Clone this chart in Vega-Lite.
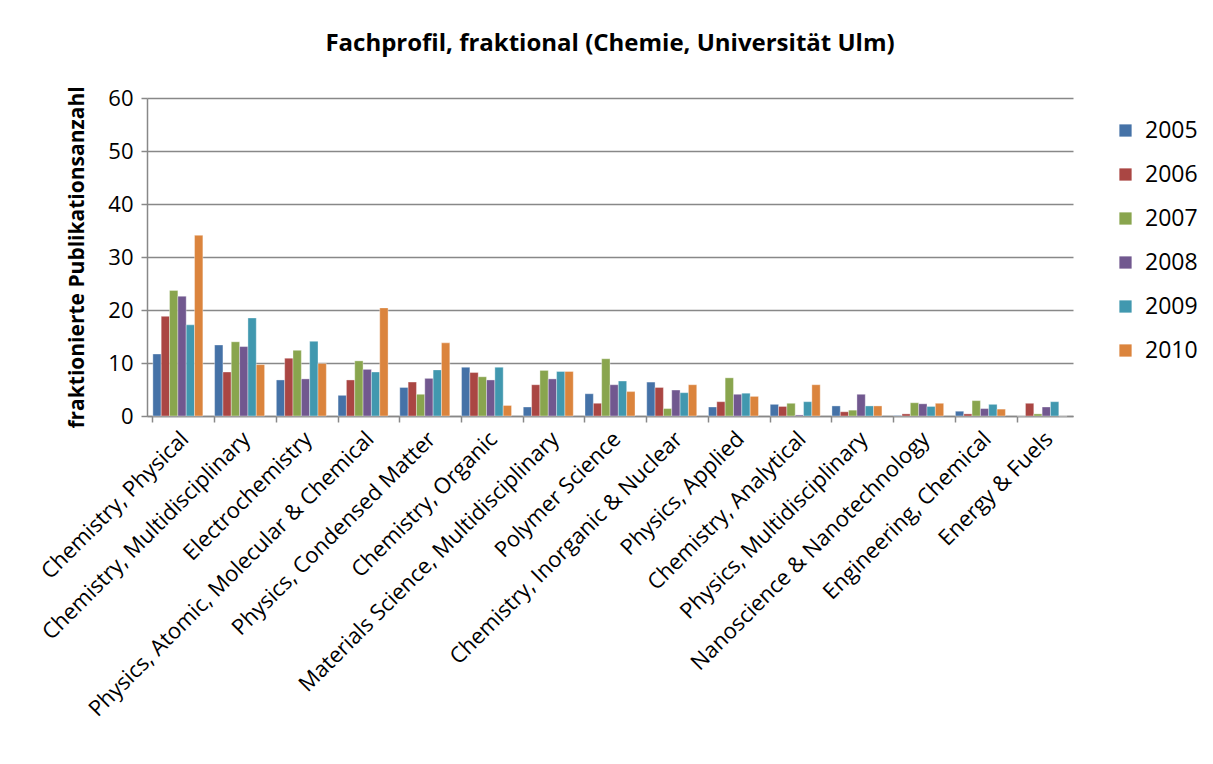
{
  "$schema": "https://vega.github.io/schema/vega-lite/v6.json",
  "autosize": {"type": "none"},
  "padding": {"left": 147, "top": 98, "right": 140, "bottom": 348},
  "width": 926,
  "height": 318,
  "background": "white",
  "config": {"font": "Open Sans", "view": {"stroke": null}},
  "title": {"text": "Fachprofil, fraktional (Chemie, Universität Ulm)", "fontSize": 24, "fontWeight": "bold", "font": "Open Sans", "color": "black", "offset": 30, "anchor": "middle"},
  "data": {"values": [
    {"cat": "Chemistry, Physical", "year": "2005", "value": 11.7},
    {"cat": "Chemistry, Physical", "year": "2006", "value": 18.8},
    {"cat": "Chemistry, Physical", "year": "2007", "value": 23.7},
    {"cat": "Chemistry, Physical", "year": "2008", "value": 22.6},
    {"cat": "Chemistry, Physical", "year": "2009", "value": 17.2},
    {"cat": "Chemistry, Physical", "year": "2010", "value": 34.1},
    {"cat": "Chemistry, Multidisciplinary", "year": "2005", "value": 13.4},
    {"cat": "Chemistry, Multidisciplinary", "year": "2006", "value": 8.3},
    {"cat": "Chemistry, Multidisciplinary", "year": "2007", "value": 14.0},
    {"cat": "Chemistry, Multidisciplinary", "year": "2008", "value": 13.1},
    {"cat": "Chemistry, Multidisciplinary", "year": "2009", "value": 18.5},
    {"cat": "Chemistry, Multidisciplinary", "year": "2010", "value": 9.7},
    {"cat": "Electrochemistry", "year": "2005", "value": 6.8},
    {"cat": "Electrochemistry", "year": "2006", "value": 10.9},
    {"cat": "Electrochemistry", "year": "2007", "value": 12.4},
    {"cat": "Electrochemistry", "year": "2008", "value": 7.0},
    {"cat": "Electrochemistry", "year": "2009", "value": 14.1},
    {"cat": "Electrochemistry", "year": "2010", "value": 9.9},
    {"cat": "Physics, Atomic, Molecular & Chemical", "year": "2005", "value": 3.9},
    {"cat": "Physics, Atomic, Molecular & Chemical", "year": "2006", "value": 6.8},
    {"cat": "Physics, Atomic, Molecular & Chemical", "year": "2007", "value": 10.4},
    {"cat": "Physics, Atomic, Molecular & Chemical", "year": "2008", "value": 8.8},
    {"cat": "Physics, Atomic, Molecular & Chemical", "year": "2009", "value": 8.3},
    {"cat": "Physics, Atomic, Molecular & Chemical", "year": "2010", "value": 20.4},
    {"cat": "Physics, Condensed Matter", "year": "2005", "value": 5.4},
    {"cat": "Physics, Condensed Matter", "year": "2006", "value": 6.4},
    {"cat": "Physics, Condensed Matter", "year": "2007", "value": 4.1},
    {"cat": "Physics, Condensed Matter", "year": "2008", "value": 7.1},
    {"cat": "Physics, Condensed Matter", "year": "2009", "value": 8.7},
    {"cat": "Physics, Condensed Matter", "year": "2010", "value": 13.8},
    {"cat": "Chemistry, Organic", "year": "2005", "value": 9.2},
    {"cat": "Chemistry, Organic", "year": "2006", "value": 8.2},
    {"cat": "Chemistry, Organic", "year": "2007", "value": 7.4},
    {"cat": "Chemistry, Organic", "year": "2008", "value": 6.8},
    {"cat": "Chemistry, Organic", "year": "2009", "value": 9.2},
    {"cat": "Chemistry, Organic", "year": "2010", "value": 2.0},
    {"cat": "Materials Science, Multidisciplinary", "year": "2005", "value": 1.7},
    {"cat": "Materials Science, Multidisciplinary", "year": "2006", "value": 5.9},
    {"cat": "Materials Science, Multidisciplinary", "year": "2007", "value": 8.6},
    {"cat": "Materials Science, Multidisciplinary", "year": "2008", "value": 7.0},
    {"cat": "Materials Science, Multidisciplinary", "year": "2009", "value": 8.4},
    {"cat": "Materials Science, Multidisciplinary", "year": "2010", "value": 8.4},
    {"cat": "Polymer Science", "year": "2005", "value": 4.2},
    {"cat": "Polymer Science", "year": "2006", "value": 2.4},
    {"cat": "Polymer Science", "year": "2007", "value": 10.8},
    {"cat": "Polymer Science", "year": "2008", "value": 5.9},
    {"cat": "Polymer Science", "year": "2009", "value": 6.6},
    {"cat": "Polymer Science", "year": "2010", "value": 4.6},
    {"cat": "Chemistry, Inorganic & Nuclear", "year": "2005", "value": 6.4},
    {"cat": "Chemistry, Inorganic & Nuclear", "year": "2006", "value": 5.4},
    {"cat": "Chemistry, Inorganic & Nuclear", "year": "2007", "value": 1.4},
    {"cat": "Chemistry, Inorganic & Nuclear", "year": "2008", "value": 4.9},
    {"cat": "Chemistry, Inorganic & Nuclear", "year": "2009", "value": 4.4},
    {"cat": "Chemistry, Inorganic & Nuclear", "year": "2010", "value": 5.9},
    {"cat": "Physics, Applied", "year": "2005", "value": 1.7},
    {"cat": "Physics, Applied", "year": "2006", "value": 2.7},
    {"cat": "Physics, Applied", "year": "2007", "value": 7.2},
    {"cat": "Physics, Applied", "year": "2008", "value": 4.1},
    {"cat": "Physics, Applied", "year": "2009", "value": 4.3},
    {"cat": "Physics, Applied", "year": "2010", "value": 3.7},
    {"cat": "Chemistry, Analytical", "year": "2005", "value": 2.2},
    {"cat": "Chemistry, Analytical", "year": "2006", "value": 1.8},
    {"cat": "Chemistry, Analytical", "year": "2007", "value": 2.4},
    {"cat": "Chemistry, Analytical", "year": "2008", "value": 0.2},
    {"cat": "Chemistry, Analytical", "year": "2009", "value": 2.7},
    {"cat": "Chemistry, Analytical", "year": "2010", "value": 5.9},
    {"cat": "Physics, Multidisciplinary", "year": "2005", "value": 1.9},
    {"cat": "Physics, Multidisciplinary", "year": "2006", "value": 0.8},
    {"cat": "Physics, Multidisciplinary", "year": "2007", "value": 1.1},
    {"cat": "Physics, Multidisciplinary", "year": "2008", "value": 4.1},
    {"cat": "Physics, Multidisciplinary", "year": "2009", "value": 1.9},
    {"cat": "Physics, Multidisciplinary", "year": "2010", "value": 1.9},
    {"cat": "Nanoscience & Nanotechnology", "year": "2005", "value": 0.1},
    {"cat": "Nanoscience & Nanotechnology", "year": "2006", "value": 0.4},
    {"cat": "Nanoscience & Nanotechnology", "year": "2007", "value": 2.5},
    {"cat": "Nanoscience & Nanotechnology", "year": "2008", "value": 2.3},
    {"cat": "Nanoscience & Nanotechnology", "year": "2009", "value": 1.8},
    {"cat": "Nanoscience & Nanotechnology", "year": "2010", "value": 2.4},
    {"cat": "Engineering, Chemical", "year": "2005", "value": 0.9},
    {"cat": "Engineering, Chemical", "year": "2006", "value": 0.4},
    {"cat": "Engineering, Chemical", "year": "2007", "value": 2.9},
    {"cat": "Engineering, Chemical", "year": "2008", "value": 1.4},
    {"cat": "Engineering, Chemical", "year": "2009", "value": 2.2},
    {"cat": "Engineering, Chemical", "year": "2010", "value": 1.3},
    {"cat": "Energy & Fuels", "year": "2005", "value": 0},
    {"cat": "Energy & Fuels", "year": "2006", "value": 2.4},
    {"cat": "Energy & Fuels", "year": "2007", "value": 0.4},
    {"cat": "Energy & Fuels", "year": "2008", "value": 1.7},
    {"cat": "Energy & Fuels", "year": "2009", "value": 2.7},
    {"cat": "Energy & Fuels", "year": "2010", "value": 0}
  ]},
  "mark": {"type": "bar", "stroke": "white", "strokeWidth": 0.6, "strokeOpacity": 0.6},
  "encoding": {
    "x": {
      "field": "cat", "type": "nominal", "sort": null,
      "scale": {"paddingInner": 0.19, "paddingOuter": 0.095},
      "axis": {
        "title": null, "labelAngle": -45, "labelFontSize": 22, "labelColor": "black",
        "labelFont": "Open Sans", "bandPosition": 0, "tickSize": 6, "tickColor": "#888888",
        "domainColor": "#888888", "domainWidth": 1.5, "tickWidth": 1.5, "labelPadding": 6, "labelLimit": 600
      }
    },
    "xOffset": {"field": "year", "type": "nominal"},
    "y": {
      "field": "value", "type": "quantitative",
      "scale": {"domain": [0, 60]},
      "axis": {
        "title": "fraktionierte Publikationsanzahl", "titleFontSize": 21, "titleFontWeight": "bold",
        "titleColor": "black", "titleFont": "Open Sans", "titlePadding": 20,
        "values": [0, 10, 20, 30, 40, 50, 60], "labelFontSize": 22, "labelColor": "black", "labelFont": "Open Sans",
        "grid": true, "gridColor": "#888888", "gridWidth": 1.5, "domainColor": "#888888", "domainWidth": 1.5,
        "tickColor": "#888888", "tickSize": 6, "tickWidth": 1.5, "labelPadding": 8
      }
    },
    "color": {
      "field": "year", "type": "nominal",
      "scale": {"domain": ["2005", "2006", "2007", "2008", "2009", "2010"], "range": ["#4572A7", "#AA4643", "#89A54E", "#71588F", "#4198AF", "#DB843D"]},
      "legend": {
        "title": null, "orient": "none", "legendX": 967, "legendY": 21, "symbolType": "square", "symbolSize": 150,
        "symbolStrokeWidth": 0, "labelFontSize": 23, "labelFont": "Open Sans", "labelColor": "black", "rowPadding": 20, "labelOffset": 8
      }
    }
  }
}
